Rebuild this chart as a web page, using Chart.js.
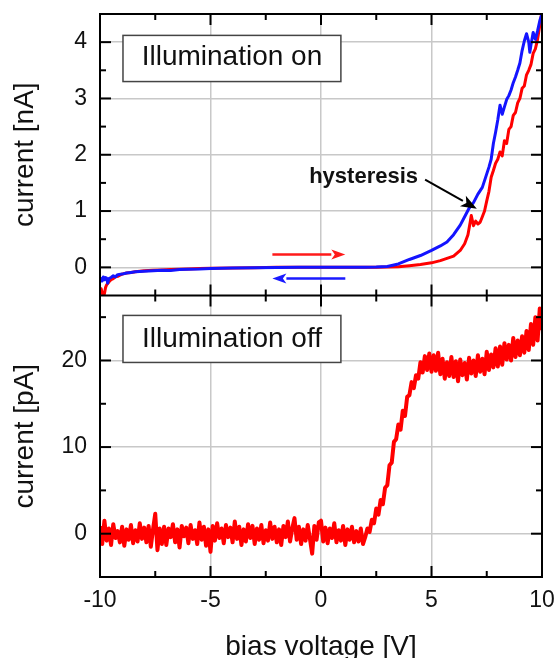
<!DOCTYPE html>
<html><head><meta charset="utf-8">
<script src="https://cdn.jsdelivr.net/npm/chart.js@4.4.1/dist/chart.umd.min.js"></script>
<style>html,body{margin:0;padding:0;background:#fff;overflow:hidden}canvas{display:block}</style>
</head><body>
<canvas id="c" width="557" height="658"></canvas>
<script>
// ---- tick values ----
const xTicks = [-10, -5, 0, 5, 10];
const xMinorTicks = [-7.5, -2.5, 2.5, 7.5];
const onTicks = [0, 1, 2, 3, 4];
const onMinorTicks = [0.5, 1.5, 2.5, 3.5];
const offTicks = [0, 10, 20];
const offMinorTicks = [5, 15, 25];

// ---- Illumination on: forward sweep (red) ----
const fwdV = [-10,-9.95,-9.9,-9.85,-9.8,-9.75,-9.7,-9.6,-9.5,-9.4,-9.3,-9.2,-9.1,-9.0,-8.8,-8.6,-8.4,-8.2,-8.0,-7.6,
  -7.2,-6.8,-6.4,-6.0,-5.5,-5.0,-4.0,-3.0,-2.0,-1.0,0,1,2,2.5,3,3.5,4,4.5,5,5.4,
  5.7,6.0,6.3,6.5,6.65,6.75,6.8,6.9,7.0,7.1,7.2,7.3,7.4,7.5,7.6,7.7,7.8,7.9,8.0,8.1,
  8.2,8.3,8.4,8.5,8.6,8.7,8.8,8.9,9.0,9.1,9.2,9.3,9.4,9.5,9.6,9.7,9.8,9.9,10];
const fwdI = [-0.48,-0.38,-0.45,-0.52,-0.47,-0.36,-0.31,-0.26,-0.22,-0.2,-0.17,-0.16,-0.14,-0.12,-0.1,-0.09,-0.08,-0.07,-0.06,-0.05,
  -0.045,-0.04,-0.035,-0.03,-0.02,-0.015,-0.01,-0.005,0,0,0,0,0,0,0.005,0.01,0.03,0.05,0.08,0.12,
  0.16,0.2,0.3,0.42,0.58,0.8,0.92,0.74,0.82,0.77,0.8,0.9,1.0,1.18,1.35,1.6,1.72,1.85,1.92,2.05,
  1.98,2.25,2.2,2.45,2.5,2.7,2.75,2.92,3.0,3.18,3.22,3.42,3.5,3.6,3.8,3.88,4.05,4.3,4.55];

// ---- Illumination on: backward sweep (blue) ----
const bwdV = [-10,-9.95,-9.9,-9.85,-9.8,-9.75,-9.7,-9.65,-9.6,-9.5,-9.4,-9.3,-9.2,-9.0,-8.8,-8.6,-8.4,-8.2,-8.0,-7.6,
  -7.2,-6.8,-6.4,-6.0,-5.5,-5.0,-4.0,-3.0,-2.0,-1.0,0,1,2,2.5,3,3.5,4,4.5,5,5.4,
  5.7,6.0,6.3,6.5,6.7,6.9,7.1,7.3,7.5,7.6,7.7,7.8,7.9,8.0,8.1,8.2,8.3,8.4,8.5,8.6,
  8.7,8.8,8.9,9.0,9.1,9.2,9.3,9.4,9.45,9.5,9.6,9.7,9.8,9.9,10];
const bwdI = [-0.26,-0.2,-0.24,-0.17,-0.22,-0.18,-0.19,-0.28,-0.2,-0.18,-0.15,-0.17,-0.13,-0.12,-0.1,-0.09,-0.08,-0.075,-0.07,-0.06,
  -0.05,-0.055,-0.04,-0.035,-0.03,-0.02,-0.012,-0.008,-0.004,0,0,0,0,0.005,0.015,0.06,0.14,0.21,0.3,0.38,
  0.45,0.58,0.75,0.9,1.05,1.15,1.3,1.42,1.66,1.78,1.92,2.2,2.4,2.62,2.88,2.72,2.85,2.98,3.05,3.15,
  3.28,3.38,3.5,3.63,3.85,4.02,4.15,4.0,3.82,3.95,4.17,4.05,4.2,4.38,4.5];

// ---- Illumination off (red, pA) ----
const darkV = [-10,-9.9,-9.8,-9.7,-9.6,-9.5,-9.4,-9.3,-9.2,-9.1,
  -9,-8.9,-8.8,-8.7,-8.6,-8.5,-8.4,-8.3,-8.2,-8.1,
  -8,-7.9,-7.8,-7.7,-7.6,-7.5,-7.4,-7.3,-7.2,-7.1,
  -7,-6.9,-6.8,-6.7,-6.6,-6.5,-6.4,-6.3,-6.2,-6.1,
  -6,-5.9,-5.8,-5.7,-5.6,-5.5,-5.4,-5.3,-5.2,-5.1,
  -5,-4.9,-4.8,-4.7,-4.6,-4.5,-4.4,-4.3,-4.2,-4.1,
  -4,-3.9,-3.8,-3.7,-3.6,-3.5,-3.4,-3.3,-3.2,-3.1,
  -3,-2.9,-2.8,-2.7,-2.6,-2.5,-2.4,-2.3,-2.2,-2.1,
  -2,-1.9,-1.8,-1.7,-1.6,-1.5,-1.4,-1.3,-1.2,-1.1,
  -1,-0.9,-0.8,-0.7,-0.6,-0.5,-0.4,-0.3,-0.2,-0.1,
  0,0.1,0.2,0.3,0.4,0.5,0.6,0.7,0.8,0.9,
  1,1.1,1.2,1.3,1.4,1.5,1.6,1.7,1.8,1.9,
  2,2.1,2.2,2.3,2.4,2.5,2.6,2.7,2.8,2.9,
  3,3.1,3.2,3.3,3.4,3.5,3.6,3.7,3.8,3.9,
  4,4.1,4.2,4.3,4.4,4.5,4.6,4.7,4.8,4.9,
  5,5.1,5.2,5.3,5.4,5.5,5.6,5.7,5.8,5.9,
  6,6.1,6.2,6.3,6.4,6.5,6.6,6.7,6.8,6.9,
  7,7.1,7.2,7.3,7.4,7.5,7.6,7.7,7.8,7.9,
  8,8.1,8.2,8.3,8.4,8.5,8.6,8.7,8.8,8.9,
  9,9.1,9.2,9.3,9.4,9.5,9.6,9.7,9.8,9.9,
  10];
const darkI = [0.9,-1.2,1.5,-0.8,0.6,-1.3,1.1,-0.5,0.3,-1.0,
  0.8,-1.4,0.5,-0.7,1.0,-1.1,0.4,-0.9,1.2,-0.6,
  0.7,-1.0,0.9,-1.5,0.5,2.3,-1.9,0.6,-1.2,0.8,
  -1.3,0.6,-0.4,1.1,-1.0,0.5,-1.6,0.9,-0.3,0.7,
  -1.1,1.0,-0.6,0.4,-1.2,1.3,-0.7,0.8,-1.4,0.5,
  -2.1,0.9,-0.8,1.2,-0.5,0.6,-1.1,1.0,-0.4,0.7,
  -1.0,1.4,-0.6,0.8,-1.3,0.5,-0.9,1.1,-0.5,0.9,
  -1.2,0.6,-0.7,1.0,-1.1,0.4,-0.8,1.3,-0.6,0.8,
  -1.0,0.5,-1.3,0.9,-0.4,1.4,-0.9,0.6,1.8,-0.7,
  0.8,-1.2,0.5,-0.8,1.0,-0.6,-2.3,0.9,-0.7,1.3,
  1.5,-0.9,0.7,-1.1,0.6,-0.5,1.2,-1.0,0.4,-0.8,
  0.9,-1.3,0.5,-0.7,0.8,-1.0,0.3,-0.9,0.6,-1.2,
  -0.4,0.6,0.2,1.6,1.2,2.9,2.2,3.9,3.4,5.3,
  5.6,7.9,8.2,10.6,10.9,12.6,12.0,14.2,13.6,15.8,
  16.0,17.5,16.8,18.3,17.9,19.8,18.6,20.5,18.9,20.8,
  18.7,20.6,18.8,20.9,18.4,20.2,17.9,19.8,18.2,20.4,
  18.1,19.9,17.6,20.1,18.3,19.7,17.8,20.3,18.5,20.0,
  18.2,20.6,18.7,20.2,18.4,21.0,18.9,20.7,19.2,21.4,
  19.3,21.6,19.5,22.0,20.1,21.8,20.0,22.6,20.4,22.3,
  20.6,22.8,20.9,23.4,21.2,24.2,21.8,25.0,22.3,26.0,
  23.5];

// ---- text ----
const xTitle = 'bias voltage [V]';
const onTitle = 'current [nA]';
const offTitle = 'current [pA]';
const onLabel = 'Illumination on';
const offLabel = 'Illumination off';
const hystLabel = 'hysteresis';

const FAMILY = '"Liberation Sans", Arial, Helvetica, sans-serif';
const TEXT = '#111';
const GRID = '#c8c8c8';

function pts(xs, ys) { return xs.map((v, i) => ({x: v, y: ys[i]})); }

function arrow(ctx, x1, y1, x2, y2, color, lw, hl, hw) {
  const ang = Math.atan2(y2 - y1, x2 - x1);
  const bx = x2 - hl * Math.cos(ang), by = y2 - hl * Math.sin(ang);
  ctx.strokeStyle = color; ctx.fillStyle = color; ctx.lineWidth = lw;
  ctx.beginPath(); ctx.moveTo(x1, y1); ctx.lineTo(bx, by); ctx.stroke();
  ctx.beginPath();
  ctx.moveTo(x2, y2);
  ctx.lineTo(bx + hw * Math.sin(ang), by - hw * Math.cos(ang));
  ctx.lineTo(bx + 0.25 * hl * Math.cos(ang), by + 0.25 * hl * Math.sin(ang));
  ctx.lineTo(bx - hw * Math.sin(ang), by + hw * Math.cos(ang));
  ctx.closePath(); ctx.fill();
}

const decorations = {
  id: 'decorations',
  afterDatasetsDraw(chart) {
    const {ctx, chartArea: a, scales} = chart;
    const x = scales.x, yOn = scales.yOn, yOff = scales.yOff;
    ctx.save();
    // label boxes
    const boxes = [
      {ys: yOn, x0: -8.96, x1: 0.9, y0: 4.12, y1: 3.30, tx: -4.03, ty: 3.73, text: onLabel},
      {ys: yOff, x0: -8.96, x1: 0.9, y0: 25.2, y1: 19.77, tx: -4.03, ty: 22.5, text: offLabel}
    ];
    for (const b of boxes) {
      const l = x.getPixelForValue(b.x0), r = x.getPixelForValue(b.x1);
      const t = b.ys.getPixelForValue(b.y0), btm = b.ys.getPixelForValue(b.y1);
      ctx.fillStyle = '#fff'; ctx.fillRect(l, t, r - l, btm - t);
      ctx.strokeStyle = '#444'; ctx.lineWidth = 1.5; ctx.strokeRect(l, t, r - l, btm - t);
      ctx.fillStyle = TEXT; ctx.font = '28px ' + FAMILY;
      ctx.textAlign = 'center'; ctx.textBaseline = 'middle';
      ctx.fillText(b.text, x.getPixelForValue(b.tx), b.ys.getPixelForValue(b.ty));
    }
    // sweep direction arrows
    arrow(ctx, x.getPixelForValue(-2.2), yOn.getPixelForValue(0.23), x.getPixelForValue(1.1), yOn.getPixelForValue(0.23), '#ff1a1a', 2.5, 14, 5);
    arrow(ctx, x.getPixelForValue(1.1), yOn.getPixelForValue(-0.2), x.getPixelForValue(-2.2), yOn.getPixelForValue(-0.2), '#1a1aff', 2.5, 14, 5);
    // hysteresis annotation
    ctx.fillStyle = TEXT; ctx.font = 'bold 22px ' + FAMILY;
    ctx.textAlign = 'right'; ctx.textBaseline = 'middle';
    ctx.fillText(hystLabel, x.getPixelForValue(4.39), yOn.getPixelForValue(1.61));
    arrow(ctx, x.getPixelForValue(4.71), yOn.getPixelForValue(1.56), x.getPixelForValue(7.05), yOn.getPixelForValue(1.04), '#000', 2, 16, 6);
    // frame
    ctx.strokeStyle = '#000'; ctx.lineWidth = 2; ctx.lineCap = 'butt';
    ctx.strokeRect(a.left, a.top, a.right - a.left, a.bottom - a.top);
    ctx.beginPath(); ctx.moveTo(a.left, yOn.bottom); ctx.lineTo(a.right, yOn.bottom); ctx.stroke();
    // inward ticks
    const seg = (x1, y1, x2, y2) => { ctx.beginPath(); ctx.moveTo(x1, y1); ctx.lineTo(x2, y2); ctx.stroke(); };
    for (const ys of [yOn, yOff]) {
      for (const [vals, len] of [[xTicks, 11], [xMinorTicks, 6]]) {
        for (const v of vals) {
          const px = x.getPixelForValue(v);
          seg(px, ys.top, px, ys.top + len);
          seg(px, ys.bottom, px, ys.bottom - len);
        }
      }
    }
    for (const [ys, maj, min] of [[yOn, onTicks, onMinorTicks], [yOff, offTicks, offMinorTicks]]) {
      for (const [vals, len] of [[maj, 11], [min, 6]]) {
        for (const v of vals) {
          const py = ys.getPixelForValue(v);
          seg(a.left, py, a.left + len, py);
          seg(a.right, py, a.right - len, py);
        }
      }
    }
    ctx.restore();
  }
};

const noPad = s => { s.paddingTop = 0; s.paddingBottom = 0; s.paddingLeft = 0; s.paddingRight = 0; };

const yCommon = (ticksArr, title) => ({
  type: 'linear', position: 'left', stack: 'panels', stackWeight: 1,
  afterBuildTicks: s => { s.ticks = ticksArr.map(v => ({value: v})); },
  afterFit: s => { s.width = 100; noPad(s); },
  grid: {color: GRID, lineWidth: 1.5, drawTicks: false},
  border: {display: false},
  ticks: {padding: 13, font: {size: 23, family: FAMILY}, color: TEXT},
  title: {display: true, text: title, font: {size: 28, family: FAMILY}, color: TEXT, padding: {top: 8, bottom: 0}}
});

new Chart(document.getElementById('c'), {
  type: 'line',
  data: {
    datasets: [
      {label: 'backward', data: pts(bwdV, bwdI), xAxisID: 'x', yAxisID: 'yOn', borderColor: '#1414ff', borderWidth: 3, pointRadius: 0, tension: 0, clip: 0, borderJoinStyle: 'round'},
      {label: 'forward', data: pts(fwdV, fwdI), xAxisID: 'x', yAxisID: 'yOn', borderColor: '#ff0000', borderWidth: 3, pointRadius: 0, tension: 0, clip: 0, borderJoinStyle: 'round'},
      {label: 'dark', data: pts(darkV, darkI), xAxisID: 'x', yAxisID: 'yOff', borderColor: '#ff0000', borderWidth: 4, pointRadius: 0, tension: 0, clip: 0, borderJoinStyle: 'round'}
    ]
  },
  options: {
    responsive: false, animation: false, devicePixelRatio: 1,
    layout: {padding: {top: 14, right: 15, left: 0, bottom: 0}},
    plugins: {legend: {display: false}, tooltip: {enabled: false}},
    scales: {
      x: {
        type: 'linear', position: 'bottom', min: -10, max: 10,
        afterBuildTicks: s => { s.ticks = xTicks.map(v => ({value: v})); },
        afterFit: s => { s.height = 81; noPad(s); },
        grid: {color: GRID, lineWidth: 1.5, drawTicks: false},
        border: {display: false},
        ticks: {padding: 10, font: {size: 23, family: FAMILY}, color: TEXT, maxRotation: 0, autoSkip: false},
        title: {display: true, text: xTitle, font: {size: 28, family: FAMILY}, color: TEXT, padding: {top: 0, bottom: -6}}
      },
      yOff: Object.assign(yCommon(offTicks, offTitle), {min: -5, max: 27.5, weight: 1}),
      yOn: Object.assign(yCommon(onTicks, onTitle), {min: -0.5, max: 4.5, weight: 2})
    }
  },
  plugins: [decorations]
});
</script>
</body></html>
